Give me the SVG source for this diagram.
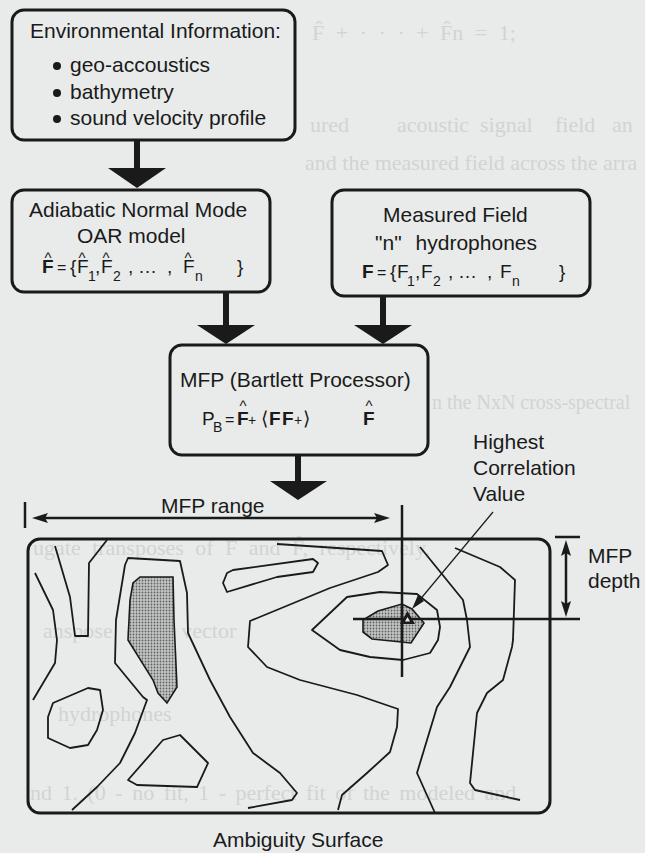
<svg xmlns="http://www.w3.org/2000/svg" width="645" height="853" viewBox="0 0 645 853">
<style>
.t{font-family:"Liberation Sans",Arial,sans-serif;font-size:21px;fill:#1a1a1a}
.f{font-family:"Liberation Sans",Arial,sans-serif;font-size:19px;fill:#1a1a1a}
.b{font-weight:bold}
.s{font-size:14px}
.eq{font-size:16px}
.hat{font-family:"Liberation Sans",Arial,sans-serif;font-size:15px;fill:#1a1a1a;text-anchor:middle}
.faint{font-family:"Liberation Serif","Times New Roman",serif;font-size:22px;fill:#d0d4d3}
.box{fill:#e8ebea;stroke:#1a1a1a;stroke-width:3}
.shaft{stroke:#1a1a1a;stroke-width:6;fill:none}
.head{fill:#1a1a1a}
.ln{stroke:#1a1a1a;stroke-width:2.5;fill:none}
.ct{stroke:#1a1a1a;stroke-width:1.8;fill:none;stroke-linejoin:round}
.sh{stroke:#1a1a1a;stroke-width:1.6;fill:url(#dots)}
</style>
<defs>
<pattern id="dots" width="3" height="3" patternUnits="userSpaceOnUse">
<rect width="3" height="3" fill="#c4c6c6"/>
<circle cx="1.5" cy="1.5" r="0.9" fill="#606262"/>
</pattern>
</defs>
<rect width="645" height="853" fill="#e8ebea"/>

<g id="background-text">
<text class="faint" x="312" y="40" word-spacing="6">F̂ + · · · + F̂n = 1;</text>
<text class="faint" y="132"><tspan x="310">ured</tspan><tspan x="397">acoustic</tspan><tspan x="480">signal</tspan><tspan x="555">field</tspan><tspan x="612">an</tspan></text>
<text class="faint" x="305" y="170">and the measured field across the arra</text>
<text class="faint" x="432" y="409" style="font-size:20px">n the NxN cross-spectral</text>
<text class="faint" x="33" y="555" word-spacing="6">ugate transposes of F and F̂, respectively,</text>
<text class="faint" x="43" y="638" word-spacing="8">anspose of a vector</text>
<text class="faint" x="58" y="721">hydrophones</text>
<text class="faint" x="30" y="800" word-spacing="4">nd 1.  (0 - no fit, 1 - perfect fit of the modeled and</text>
</g>

<g id="env">
<rect class="box" x="12" y="10" width="283" height="130" rx="12"/>
<text class="t" x="30" y="38">Environmental Information:</text>
<circle cx="57" cy="66" r="4" fill="#1a1a1a"/>
<circle cx="57" cy="93" r="4" fill="#1a1a1a"/>
<circle cx="57" cy="119" r="4" fill="#1a1a1a"/>
<text class="t" x="70" y="72">geo-accoustics</text>
<text class="t" x="70" y="99">bathymetry</text>
<text class="t" x="70" y="125">sound velocity profile</text>
</g>

<g id="adiabatic">
<rect class="box" x="12" y="190" width="258" height="102" rx="12"/>
<text class="t" x="29" y="217">Adiabatic Normal Mode</text>
<text class="t" x="77" y="243">OAR model</text>
<text class="f" y="273"><tspan x="42" class="b">F</tspan><tspan x="57" class="eq">=</tspan><tspan x="70">{</tspan><tspan x="77">F</tspan><tspan x="88" y="281" class="s">1</tspan><tspan x="95" y="273">,</tspan><tspan x="101">F</tspan><tspan x="113" y="281" class="s">2</tspan><tspan x="128" y="273">,</tspan><tspan x="138">…</tspan><tspan x="167">,</tspan><tspan x="183">F</tspan><tspan x="195" y="281" class="s">n</tspan><tspan x="237" y="273">}</tspan></text>
<text class="hat" x="48" y="263">^</text>
<text class="hat" x="82" y="263">^</text>
<text class="hat" x="106" y="263">^</text>
<text class="hat" x="188" y="263">^</text>
</g>

<g id="measured">
<rect class="box" x="332" y="190" width="258" height="106" rx="12"/>
<text class="t" x="383" y="222">Measured Field</text>
<text class="t" x="375" y="250">"n"</text>
<text class="t" x="537" y="250" text-anchor="end">hydrophones</text>
<text class="f" y="278"><tspan x="362" class="b">F</tspan><tspan x="377" class="eq">=</tspan><tspan x="390">{</tspan><tspan x="397">F</tspan><tspan x="407" y="286" class="s">1</tspan><tspan x="415" y="278">,</tspan><tspan x="421">F</tspan><tspan x="433" y="286" class="s">2</tspan><tspan x="448" y="278">,</tspan><tspan x="458">…</tspan><tspan x="487">,</tspan><tspan x="500">F</tspan><tspan x="512" y="286" class="s">n</tspan><tspan x="559" y="278">}</tspan></text>
</g>

<g id="mfp">
<rect class="box" x="170" y="345" width="258" height="110" rx="12"/>
<text class="t" x="180" y="387">MFP (Bartlett Processor)</text>
<text class="f" y="425"><tspan x="202">P</tspan><tspan x="213" y="432" class="s">B</tspan><tspan x="225" y="425" class="eq">=</tspan><tspan x="237" class="b">F</tspan><tspan x="248" class="s">+</tspan><tspan x="261">⟨</tspan><tspan x="269" class="b">F</tspan><tspan x="282" class="b">F</tspan><tspan x="294" class="s">+</tspan><tspan x="303">⟩</tspan><tspan x="363" class="b">F</tspan></text>
<text class="hat" x="243" y="411">^</text>
<text class="hat" x="369" y="411">^</text>
</g>

<g id="ambiguity">
<rect x="28" y="539" width="522" height="274" rx="12" fill="none" stroke="#1a1a1a" stroke-width="3"/>
<path class="ct" d="M35,573 L53,610 L57,640 L55,663 L33,700"/>
<path class="ct" d="M55,546 L70,597 L75,636 L88,636 L89,563 L107,540"/>
<path class="ct" d="M72,810 L97,787 L120,763 L135,733 L147,700 L143,697 L115,663 L116,620 L125,565 L128,558 L180,561 L187,593 L188,633 L210,680 L230,717 L253,753 L280,773 L297,793 L292,800 L248,808"/>
<path class="sh" d="M140,577 L173,577 L174,620 L177,687 L167,703 L158,693 L153,680 L128,640 L130,600 L133,583 Z"/>
<path class="ct" d="M227,573 L233,570 L313,559 L318,563 L313,572 L277,577 L227,592 L223,583 Z"/>
<path class="ct" d="M277,544 L382,551 L388,565 L378,572 L330,588 L250,621 L248,647 L267,667 L300,680 L357,695 L398,709 L397,727 L390,752 L367,773 L342,795 L338,810"/>
<path class="ct" d="M312,630 L347,597 L380,592 L417,594 L437,610 L440,627 L438,640 L430,653 L403,660 L370,657 L340,650 Z"/>
<path class="sh" d="M363,620 L378,611 L402,604 L412,609 L424,623 L411,643 L372,639 L363,632 Z"/>
<path class="ct" d="M420,547 L463,600 L467,620 L470,647 L450,687 L437,707 L417,773 L435,813"/>
<path class="ct" d="M455,548 L500,567 L515,580 L513,640 L512,647 L503,680 L487,693 L477,713 L470,783 L475,790 L520,800"/>
<path class="ct" d="M48,717 L53,703 L88,688 L100,690 L103,710 L97,730 L88,745 L70,748 L48,738 Z"/>
<path class="ct" d="M128,780 L163,740 L180,735 L208,763 L197,787 L137,785 Z"/>
<line class="ln" x1="402" y1="505" x2="402" y2="677"/>
<line class="ln" x1="353" y1="619" x2="580" y2="619"/>
<polygon points="400,624 415,624 407.5,611" fill="#1a1a1a"/>
<polygon points="405,621.5 410,621.5 407.5,617" fill="#e8ebea"/>
<text class="t" x="213" y="847">Ambiguity Surface</text>
</g>

<g id="range">
<line class="ln" x1="25" y1="502" x2="25" y2="528"/>
<line class="ln" x1="40" y1="518" x2="382" y2="518"/>
<polygon class="head" points="32,518 48,513 45,518 48,523"/>
<polygon class="head" points="390,518 374,513 377,518 374,523"/>
<text class="t" x="161" y="513">MFP range</text>
</g>

<g id="depth">
<line class="ln" x1="555" y1="537" x2="580" y2="537"/>
<line class="ln" x1="566" y1="550" x2="566" y2="607"/>
<polygon class="head" points="566,540 561,556 566,553 571,556"/>
<polygon class="head" points="566,617 561,601 566,604 571,601"/>
<text class="t" x="588" y="563">MFP</text>
<text class="t" x="588" y="588">depth</text>
</g>

<g id="highest">
<text class="t" x="473" y="449">Highest</text>
<text class="t" x="473" y="475">Correlation</text>
<text class="t" x="473" y="501">Value</text>
<line x1="493" y1="512" x2="418" y2="602" stroke="#1a1a1a" stroke-width="1.2"/>
<polygon class="head" points="412,609 424,601 418,595"/>
</g>

<g id="connectors">
<line class="shaft" x1="137" y1="141" x2="137" y2="170"/>
<polygon class="head" points="108,168 166,168 137,188"/>
<line class="shaft" x1="226" y1="293" x2="226" y2="327"/>
<polygon class="head" points="197,325 255,325 226,344"/>
<line class="shaft" x1="383" y1="297" x2="383" y2="327"/>
<polygon class="head" points="354,325 412,325 383,344"/>
<line class="shaft" x1="298" y1="456" x2="298" y2="483"/>
<polygon class="head" points="270,481 327,481 298,500"/>
</g>
</svg>
